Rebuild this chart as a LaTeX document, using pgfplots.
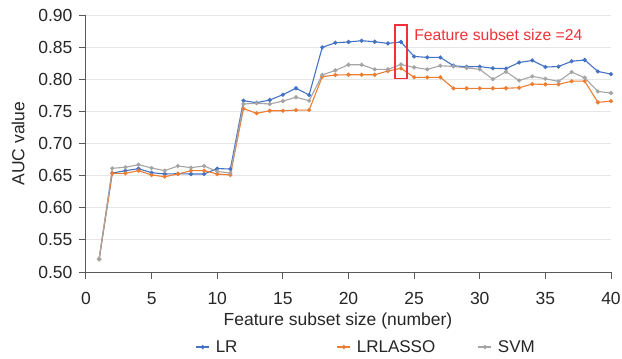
\documentclass[border=0pt]{standalone}
\usepackage{fontspec}
\setmainfont{Liberation Sans}
\usepackage{pgfplots}
\usepackage{pgfplotstable}
\pgfplotsset{compat=1.18}
\definecolor{cLR}{HTML}{4472C4}
\definecolor{cLA}{HTML}{ED7D31}
\definecolor{cSV}{HTML}{A5A5A5}
\definecolor{axgray}{HTML}{595959}
\definecolor{gridc}{HTML}{E6E6E6}
\definecolor{annred}{HTML}{EE3338}
\pgfplotstableread{
x lr lasso svm
1 0.520 0.520 0.520
2 0.654 0.6536 0.6614
3 0.6577 0.6536 0.663
4 0.6608 0.6577 0.667
5 0.6546 0.651 0.6619
6 0.6525 0.6483 0.6577
7 0.653 0.6525 0.665
8 0.6525 0.6577 0.6624
9 0.6525 0.6577 0.665
10 0.661 0.6525 0.6565
11 0.6603 0.651 0.654
12 0.7666 0.7542 0.7615
13 0.7635 0.747 0.7626
14 0.7677 0.751 0.7615
15 0.776 0.751 0.766
16 0.786 0.752 0.772
17 0.7755 0.752 0.7666
18 0.8497 0.804 0.8066
19 0.8568 0.8066 0.8138
20 0.858 0.807 0.8226
21 0.860 0.807 0.8226
22 0.8584 0.807 0.8154
23 0.8558 0.8128 0.8154
24 0.858 0.817 0.823
25 0.8355 0.803 0.8185
26 0.834 0.803 0.8154
27 0.834 0.803 0.821
28 0.821 0.7858 0.820
29 0.8193 0.7858 0.8177
30 0.8198 0.7858 0.8154
31 0.817 0.7858 0.800
32 0.8166 0.786 0.8117
33 0.826 0.7868 0.798
34 0.8293 0.7925 0.8045
35 0.819 0.792 0.8008
36 0.8198 0.792 0.7967
37 0.828 0.797 0.8112
38 0.830 0.797 0.8023
39 0.8122 0.764 0.781
40 0.808 0.766 0.7786
}\datatable
\begin{document}
\begin{tikzpicture}
\path[use as bounding box] (-86pt,-87pt) rectangle (536pt,272pt);
\begin{axis}[
  scale only axis,
  width=525pt, height=257pt,
  at={(0,0)}, anchor=south west,
  xmin=0, xmax=40, ymin=0.5, ymax=0.9,
  xtick={0,5,...,40},
  ytick={0.5,0.55,...,0.91},
  axis x line*=bottom, axis y line*=left,
  axis line style={axgray, line width=1pt},
  every outer x axis line/.append style={-},
  every outer y axis line/.append style={-},
  tick align=outside,
  major tick length=7pt,
  tick style={axgray, line width=1pt},
  ymajorgrids,
  grid style={gridc, line width=1pt},
  /pgf/number format/assume math mode=true,
  ticklabel style={font=\fontsize{17.5}{21}\selectfont, text=black!85},
  xticklabel style={yshift=-9.5pt},
  yticklabel style={xshift=-3pt, /pgf/number format/.cd, fixed, fixed zerofill, precision=2},
  xlabel={Feature subset size (number)},
  ylabel={AUC value},
  label style={font=\fontsize{17.5}{21}\selectfont, text=black!85},
  xlabel style={at={(axis description cs:0.48,-0.19)}, anchor=center},
  ylabel style={at={(axis description cs:-0.1295,0.5)}, anchor=center},
  legend columns=3,
  legend style={draw=none, at={(axis description cs:0.594,-0.292)}, anchor=center,
    font=\fontsize{17}{20}\selectfont,
    nodes={text width=100pt, align=left, text=black!85},
    /tikz/every odd column/.append style={column sep=4pt},
    /tikz/every even column/.append style={column sep=19pt}},
  legend image code/.code={\draw[mark repeat=2,mark phase=2,#1] plot coordinates {(0pt,0pt) (6.5pt,0pt) (13pt,0pt)};},
  every axis plot/.append style={line width=1.1pt, mark=*, mark size=1.5pt},
  clip=false,
]
\addplot[cLR, mark options={fill=cLR, draw=cLR}] table[x=x, y=lr] {\datatable};
\addlegendentry{LR}
\addplot[cLA, mark options={fill=cLA, draw=cLA}] table[x=x, y=lasso] {\datatable};
\addlegendentry{LRLASSO}
\addplot[cSV, mark options={fill=cSV, draw=cSV}] table[x=x, y=svm] {\datatable};
\addlegendentry{SVM}
\draw[annred, line width=1.2pt] (axis cs:23.54,0.8014) rectangle (axis cs:24.46,0.8843);
\node[anchor=west, inner sep=0pt, text=annred, font=\fontsize{15.7}{19}\selectfont] at (axis cs:25.0,0.8688) {Feature subset size =24};
\end{axis}
\end{tikzpicture}
\end{document}
